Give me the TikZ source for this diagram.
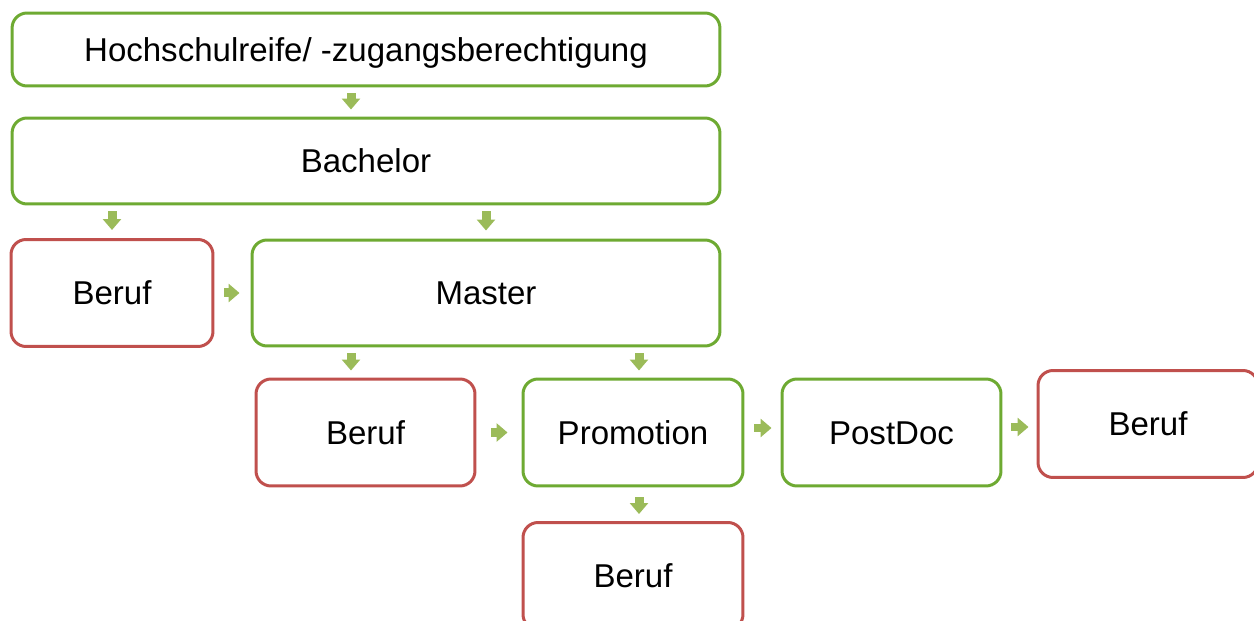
\documentclass[tikz,border=0pt]{standalone}
\usepackage{fontspec}
\setmainfont{Liberation Sans}
\usepackage{xcolor}
\usetikzlibrary{arrows.meta, positioning, calc}

\definecolor{stepgreen}{RGB}{110,170,50}
\definecolor{jobred}{RGB}{192,80,77}
\definecolor{arrowgreen}{RGB}{155,187,89}

\begin{document}
\begin{tikzpicture}[
    x=0.02cm, y=-0.02cm,
    box/.style={draw, rounded corners=0.3cm, line width=0.06cm, align=center, fill=white,
        font=\fontsize{18.8}{22}\selectfont, inner sep=0pt, text height=0.48cm, text depth=0cm},
    stage/.style={box, draw=stepgreen},
    job/.style={box, draw=jobred, minimum width=4.38cm, minimum height=2.14cm},
    blk/.style={arrowgreen, line width=0.18cm, -{Triangle[width=0.36cm, length=0.22cm]}}
]
    \useasboundingbox (0,0) rectangle (1254,621);

    % Study path
    \node[stage, minimum width=14.16cm, minimum height=1.46cm] (abitur) at (366,49.5) {Hochschulreife/ -zugangsberechtigung};
    \node[stage, minimum width=14.16cm, minimum height=1.72cm] (bachelor) at (366,161) {Bachelor};
    \node[job, minimum width=4.04cm] (beruf1) at (112,293) {Beruf};
    \node[stage, minimum width=9.36cm, minimum height=2.12cm] (master) at (486,293) {Master};
    \node[job] (beruf2) at (365.5,432.5) {Beruf};
    \node[stage, minimum width=4.4cm, minimum height=2.14cm] (promo) at (633,432.5) {Promotion};
    \node[stage, minimum width=4.38cm, minimum height=2.14cm] (postdoc) at (891.5,432.5) {PostDoc};
    \node[job, minimum width=4.4cm] (beruf3) at (1148,424) {Beruf};
    \node[job, minimum width=4.4cm] (beruf4) at (633,576) {Beruf};

    % Arrows down
    \draw[blk, shorten <=0.12cm, shorten >=0.14cm] (abitur.south -| 351,0) -- (bachelor.north -| 351,0);
    \draw[blk, shorten <=0.12cm, shorten >=0.16cm] (bachelor.south -| beruf1) -- (beruf1);
    \draw[blk, shorten <=0.12cm, shorten >=0.16cm] (bachelor.south -| master) -- (master);
    \draw[blk, shorten <=0.12cm, shorten >=0.14cm] (master.south -| 351,0) -- (beruf2.north -| 351,0);
    \draw[blk, shorten <=0.12cm, shorten >=0.14cm] (master.south -| 639,0) -- (promo.north -| 639,0);
    \draw[blk, shorten <=0.2cm, shorten >=0.14cm] (promo.south -| 639,0) -- (beruf4.north -| 639,0);

    % Arrows right
    \draw[blk, shorten <=0.2cm, shorten >=0.22cm] (beruf1) -- (master.west |- beruf1);
    \draw[blk, shorten <=0.3cm, shorten >=0.28cm] (beruf2) -- (promo);
    \draw[blk, shorten <=0.2cm, shorten >=0.18cm] (promo.east |- 0,428) -- (postdoc.west |- 0,428);
    \draw[blk, shorten <=0.18cm, shorten >=0.16cm] (postdoc.east |- 0,427) -- (beruf3.west |- 0,427);

\end{tikzpicture}
\end{document}
